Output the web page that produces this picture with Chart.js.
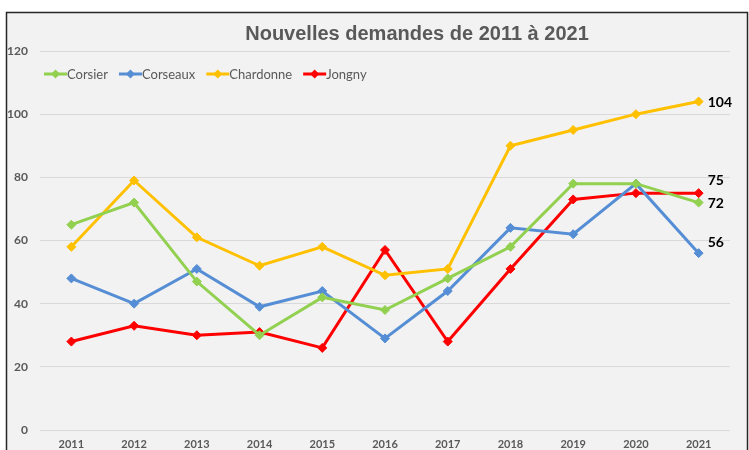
<!DOCTYPE html>
<html>
<head>
<meta charset="utf-8">
<script src="https://cdn.jsdelivr.net/npm/chart.js@4"></script>
<style>
  html, body { margin: 0; padding: 0; background: #ffffff; }
  canvas { display: block; }
</style>
</head>
<body>
<canvas id="myChart" width="749" height="450"></canvas>
<script>
const years = ["2011", "2012", "2013", "2014", "2015", "2016", "2017", "2018", "2019", "2020", "2021"];
const corsier = [65, 72, 47, 30, 42, 38, 48, 58, 78, 78, 72];
const corseaux = [48, 40, 51, 39, 44, 29, 44, 64, 62, 78, 56];
const chardonne = [58, 79, 61, 52, 58, 49, 51, 90, 95, 100, 104];
const jongny = [28, 33, 30, 31, 26, 57, 28, 51, 73, 75, 75];
const yTicks = [0, 20, 40, 60, 80, 100, 120];
const title = "Nouvelles demandes de 2011 à 2021";

const labelFont = "Lato, 'Liberation Sans', sans-serif";

function series(label, data, color, labelDy) {
  return {
    label: label,
    data: data,
    borderColor: color,
    backgroundColor: color,
    pointBackgroundColor: color,
    pointBorderColor: color,
    borderWidth: 3,
    pointStyle: "rectRot",
    pointRadius: 4.5,
    pointHoverRadius: 4.5,
    pointBorderWidth: 1,
    tension: 0,
    fill: false,
    labelDy: labelDy,
  };
}

const backdrop = {
  id: "backdrop",
  beforeDraw(chart) {
    const ctx = chart.ctx;
    ctx.save();
    ctx.fillStyle = "#ffffff";
    ctx.fillRect(0, 0, chart.width, chart.height);
    ctx.fillStyle = "#f2f2f2";
    ctx.fillRect(7, 12, 740, 500);
    ctx.strokeStyle = "#262626";
    ctx.lineWidth = 1.5;
    ctx.strokeRect(6.5, 12.5, 741, 500);
    ctx.fillStyle = "#595959";
    ctx.font = "bold 20px 'Liberation Sans', Arial, sans-serif";
    ctx.textAlign = "center";
    ctx.textBaseline = "middle";
    ctx.fillText(title, 417, 34);
    ctx.restore();
  },
};

const extras = {
  id: "extras",
  afterDraw(chart) {
    const ctx = chart.ctx;
    ctx.save();
    // legend
    let x = 44;
    const y = 74;
    ctx.font = "13px " + labelFont;
    ctx.textBaseline = "middle";
    ctx.textAlign = "left";
    chart.data.datasets.forEach((ds) => {
      ctx.strokeStyle = ds.borderColor;
      ctx.lineWidth = 3;
      ctx.beginPath();
      ctx.moveTo(x, y);
      ctx.lineTo(x + 23, y);
      ctx.stroke();
      ctx.fillStyle = ds.borderColor;
      ctx.beginPath();
      ctx.moveTo(x + 11.5, y - 4.5);
      ctx.lineTo(x + 16, y);
      ctx.lineTo(x + 11.5, y + 4.5);
      ctx.lineTo(x + 7, y);
      ctx.closePath();
      ctx.fill();
      ctx.fillStyle = "#595959";
      ctx.fillText(ds.label, x + 23, y + 1);
      x += 23 + ctx.measureText(ds.label).width + 11;
    });
    // end labels
    ctx.font = "bold 14px " + labelFont;
    ctx.fillStyle = "#000000";
    chart.data.datasets.forEach((ds, i) => {
      const meta = chart.getDatasetMeta(i);
      const last = meta.data[meta.data.length - 1];
      const v = ds.data[ds.data.length - 1];
      ctx.fillText(String(v), last.x + 9, last.y + ds.labelDy);
    });
    ctx.restore();
  },
};

const ctx = document.getElementById("myChart").getContext("2d");
const myChart = new Chart(ctx, {
  type: "line",
  data: {
    labels: years,
    datasets: [
      series("Corsier", corsier, "#92d050", 1),
      series("Corseaux", corseaux, "#558ed5", -11),
      series("Chardonne", chardonne, "#ffc000", 1),
      series("Jongny", jongny, "#ff0000", -13),
    ],
  },
  options: {
    responsive: false,
    animation: false,
    devicePixelRatio: 1,
    layout: { padding: { top: 51, right: 19, left: 0, bottom: 0 } },
    plugins: {
      legend: { display: false },
      title: { display: false },
      tooltip: { enabled: false },
    },
    scales: {
      x: {
        offset: true,
        grid: { display: false, drawTicks: false },
        border: { display: false },
        ticks: {
          color: "#595959",
          font: { family: labelFont, size: 11, weight: "bold" },
          padding: 8,
          maxRotation: 0,
          autoSkip: false,
        },
        afterFit(scale) { scale.height = 20; },
      },
      y: {
        min: 0,
        max: 120,
        grid: { color: "#d9d9d9", lineWidth: 1, drawTicks: false },
        border: { display: false },
        afterBuildTicks(scale) { scale.ticks = yTicks.map((v) => ({ value: v })); },
        ticks: {
          color: "#595959",
          font: { family: labelFont, size: 12, weight: "bold" },
          padding: 12,
        },
        afterFit(scale) { scale.width = 40; },
      },
    },
  },
  plugins: [backdrop, extras],
});
</script>
</body>
</html>
